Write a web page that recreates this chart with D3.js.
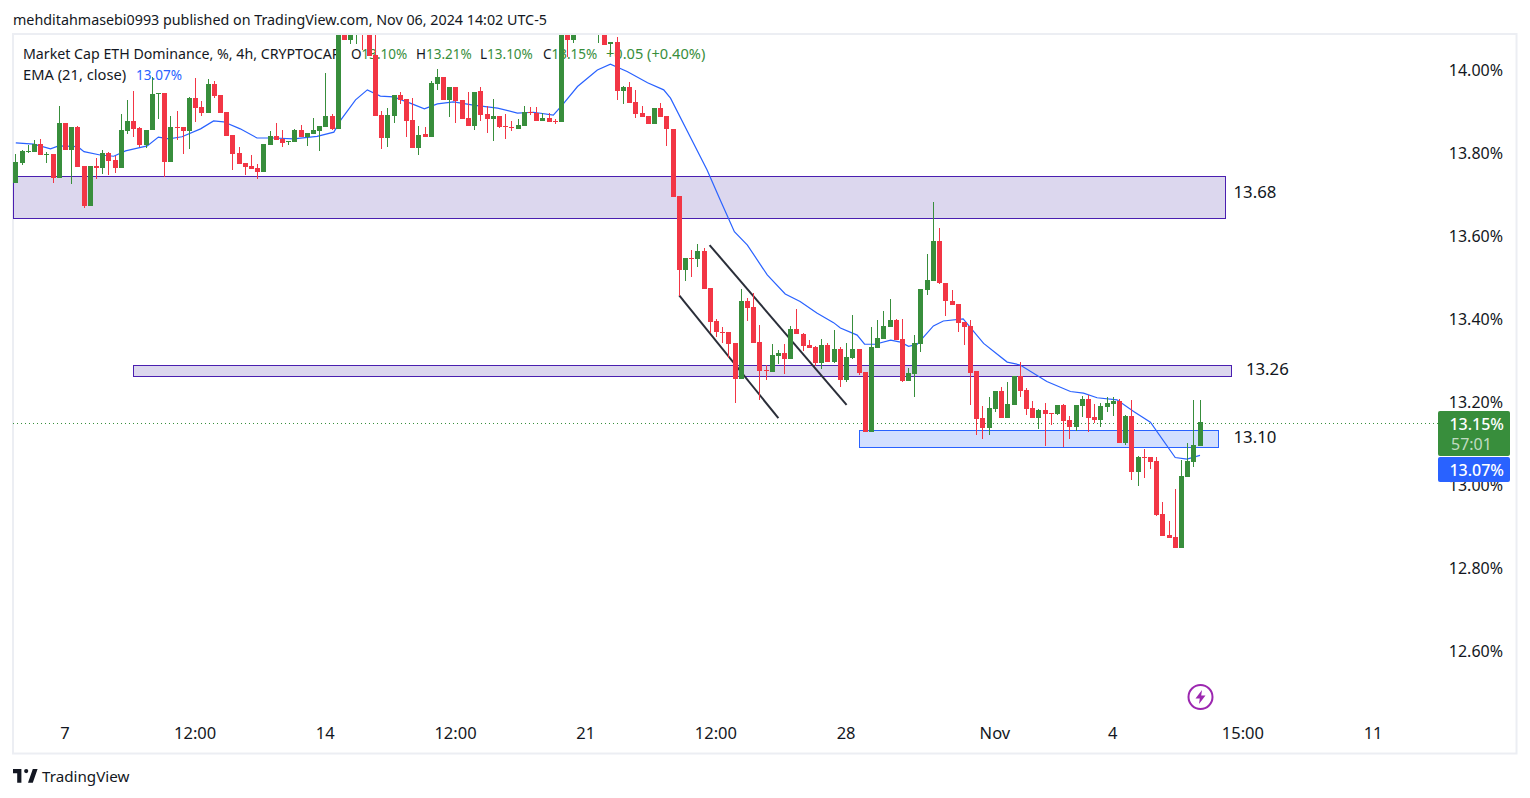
<!DOCTYPE html>
<html>
<head>
<meta charset="utf-8">
<script src="https://cdn.jsdelivr.net/npm/d3@7"></script>
<style>
  html, body { margin: 0; padding: 0; background: #fff; }
  svg { display: block; }
  text { font-family: "Noto Sans", "Open Sans", sans-serif; fill: #131722; }
</style>
</head>
<body>
<svg id="chart" width="1530" height="798"></svg>
<script>
// candles, 4h bars, index 0 = Oct 7 00:00. index -8 is the first one on screen
var firstIndex = -8;

var opens = [
  13.727,13.775,13.801,13.801,13.820,13.794,13.796,13.739,13.871,13.806,
  13.861,13.768,13.671,13.768,13.763,13.799,13.782,13.763,13.852,13.876,
  13.859,13.818,13.854,13.941,13.943,13.777,13.861,13.861,13.852,13.931,
  13.909,13.895,13.965,13.938,13.897,13.842,13.799,13.775,13.768,13.763,
  13.753,13.818,13.840,13.832,13.825,13.825,13.854,13.837,13.844,13.852,
  13.861,13.887,13.857,14.107,14.071,14.090,14.120,14.110,14.035,13.890,
  13.835,13.887,13.938,13.929,13.878,13.811,13.844,13.837,13.965,13.982,
  13.927,13.958,13.927,13.883,13.864,13.948,13.892,13.880,13.887,13.864,
  13.861,13.857,13.864,13.897,13.895,13.876,13.883,13.876,13.873,14.110,
  14.071,14.150,14.120,14.160,14.100,14.140,14.061,14.066,13.948,13.958,
  13.922,13.895,13.887,13.869,13.907,13.887,13.857,13.695,13.517,13.546,
  13.543,13.563,13.474,13.394,13.367,13.367,13.341,13.254,13.443,13.428,
  13.343,13.276,13.271,13.310,13.317,13.302,13.374,13.362,13.336,13.331,
  13.293,13.336,13.295,13.326,13.252,13.305,13.326,13.271,13.126,13.329,
  13.350,13.379,13.396,13.350,13.249,13.266,13.338,13.469,13.491,13.587,
  13.486,13.443,13.435,13.391,13.382,13.273,13.160,13.136,13.182,13.225,
  13.160,13.192,13.261,13.228,13.185,13.160,13.180,13.172,13.170,13.192,
  13.155,13.138,13.189,13.206,13.163,13.155,13.187,13.194,13.201,13.100,
  13.165,13.030,13.066,13.066,13.057,12.929,12.878,12.873,12.847,13.018,
  13.054,13.093
];
var highs = [
  13.796,13.806,13.818,13.830,13.832,13.801,13.796,13.912,13.871,13.861,
  13.864,13.768,13.768,13.787,13.806,13.801,13.792,13.892,13.927,13.948,
  13.861,13.854,13.982,13.943,13.943,13.887,13.900,13.861,13.934,13.980,
  13.924,13.977,13.972,13.938,13.897,13.842,13.813,13.775,13.794,13.772,
  13.820,13.852,13.871,13.854,13.828,13.857,13.866,13.847,13.883,13.864,
  13.992,13.892,14.130,14.130,14.130,14.140,14.140,14.140,14.100,13.900,
  13.907,13.938,13.946,13.929,13.931,13.864,13.861,13.972,14.001,13.982,
  13.958,13.958,13.927,13.946,13.946,13.958,13.912,13.929,13.887,13.892,
  13.876,13.880,13.912,13.909,13.909,13.895,13.895,13.880,14.130,14.130,
  14.130,14.170,14.180,14.190,14.160,14.160,14.066,14.078,13.960,13.970,
  13.951,13.912,13.887,13.907,13.919,13.887,13.857,13.695,13.546,13.565,
  13.579,13.570,13.474,13.399,13.379,13.367,13.341,13.471,13.450,13.462,
  13.384,13.288,13.338,13.324,13.338,13.382,13.423,13.365,13.348,13.333,
  13.350,13.341,13.372,13.331,13.341,13.408,13.326,13.271,13.379,13.396,
  13.418,13.447,13.399,13.399,13.281,13.360,13.471,13.555,13.681,13.618,
  13.486,13.469,13.435,13.391,13.396,13.273,13.189,13.211,13.225,13.235,
  13.247,13.261,13.295,13.233,13.201,13.182,13.197,13.172,13.192,13.194,
  13.165,13.192,13.213,13.216,13.194,13.197,13.211,13.211,13.206,13.168,
  13.204,13.069,13.085,13.066,13.066,12.958,12.912,12.989,13.059,13.100,
  13.204,13.204
];
var lows = [
  13.727,13.770,13.799,13.801,13.794,13.775,13.727,13.739,13.806,13.724,
  13.765,13.666,13.671,13.736,13.748,13.746,13.751,13.763,13.844,13.837,
  13.813,13.811,13.854,13.880,13.741,13.777,13.830,13.796,13.808,13.873,
  13.887,13.895,13.931,13.895,13.840,13.758,13.772,13.746,13.760,13.736,
  13.753,13.818,13.830,13.813,13.818,13.825,13.837,13.816,13.844,13.804,
  13.861,13.854,13.857,14.071,14.061,14.061,14.047,14.033,13.887,13.808,
  13.813,13.871,13.917,13.837,13.811,13.794,13.837,13.837,13.951,13.927,
  13.885,13.871,13.880,13.864,13.854,13.876,13.847,13.828,13.859,13.832,
  13.852,13.857,13.864,13.890,13.876,13.876,13.873,13.869,13.873,14.030,
  14.064,14.100,14.100,14.110,14.064,14.059,14.035,13.927,13.917,13.919,
  13.883,13.885,13.869,13.869,13.885,13.816,13.693,13.455,13.491,13.500,
  13.524,13.471,13.365,13.355,13.341,13.305,13.197,13.254,13.394,13.341,
  13.204,13.252,13.271,13.291,13.266,13.302,13.362,13.322,13.329,13.286,
  13.278,13.295,13.293,13.235,13.247,13.302,13.264,13.126,13.126,13.329,
  13.350,13.379,13.348,13.247,13.249,13.211,13.319,13.457,13.491,13.483,
  13.406,13.433,13.367,13.336,13.192,13.119,13.109,13.119,13.175,13.160,
  13.160,13.192,13.211,13.168,13.160,13.133,13.093,13.143,13.168,13.090,
  13.109,13.129,13.163,13.126,13.148,13.138,13.175,13.165,13.100,13.095,
  13.011,12.996,13.016,13.037,12.924,12.875,12.871,12.847,12.847,13.018,
  13.042,13.093
];
var closes = [
  13.777,13.804,13.804,13.820,13.794,13.796,13.739,13.871,13.806,13.861,
  13.765,13.671,13.768,13.763,13.799,13.780,13.763,13.854,13.876,13.857,
  13.818,13.854,13.941,13.943,13.777,13.861,13.859,13.852,13.931,13.907,
  13.895,13.965,13.936,13.895,13.840,13.796,13.772,13.765,13.760,13.753,
  13.820,13.840,13.830,13.823,13.828,13.854,13.837,13.847,13.854,13.864,
  13.887,13.857,14.119,14.071,14.100,14.120,14.090,14.033,13.887,13.835,
  13.890,13.938,13.927,13.876,13.811,13.842,13.837,13.967,13.982,13.927,
  13.958,13.924,13.880,13.864,13.946,13.890,13.880,13.887,13.861,13.861,
  13.859,13.866,13.897,13.895,13.876,13.883,13.873,13.873,14.110,14.071,
  14.110,14.120,14.160,14.130,14.140,14.059,14.066,13.948,13.958,13.919,
  13.892,13.885,13.869,13.907,13.885,13.857,13.693,13.517,13.546,13.543,
  13.563,13.471,13.391,13.367,13.365,13.338,13.254,13.443,13.426,13.341,
  13.273,13.273,13.312,13.317,13.302,13.374,13.362,13.333,13.329,13.293,
  13.336,13.295,13.326,13.252,13.307,13.326,13.269,13.126,13.331,13.353,
  13.382,13.396,13.348,13.249,13.269,13.341,13.471,13.493,13.587,13.486,
  13.443,13.433,13.389,13.379,13.269,13.158,13.136,13.185,13.225,13.160,
  13.194,13.261,13.225,13.182,13.160,13.180,13.170,13.170,13.192,13.153,
  13.138,13.192,13.206,13.160,13.155,13.189,13.197,13.201,13.100,13.165,
  13.030,13.066,13.064,13.054,12.927,12.875,12.871,12.847,13.020,13.057,
  13.095,13.150
];

// EMA 21: position in bars, then value
var emaAt = [
  -8,-5.1,-2.4,-1.1,2,3,5.6,7.8,9.7,11.8,13.2,15,16.7,18.8,21.8,23.9,25.5,28.2,30.9,33.6,
  36.8,40.6,43.3,44.4,46.8,48.7,50.8,52.9,55.6,57.9,60,62.6,65.8,69.7,72.9,75.5,78.7,80.3,82.6,85.8,
  87.9,90.6,93.9,96.5,97.6,103.5,105.6,107.9,110,113.2,116.1,118.5,121.2,123.9,125,127.7,128.9,130.6,133.1,134.7,
  136,137.4,140,141.6,144.8,148.1,151.9,154,158.3,162.1,164.2,166.4,169.6,172.3,175,179,180.9,183
];
var emaValues = [
  13.823,13.820,13.809,13.816,13.814,13.802,13.794,13.791,13.804,13.811,13.816,13.837,13.833,13.838,13.857,13.876,13.874,13.857,13.835,13.835,
  13.833,13.839,13.849,13.878,13.927,13.951,13.936,13.934,13.919,13.905,13.917,13.922,13.914,13.907,13.895,13.897,13.890,13.917,13.959,13.999,
  14.013,13.995,13.968,13.951,13.931,13.758,13.686,13.609,13.577,13.505,13.459,13.441,13.413,13.390,13.377,13.360,13.338,13.338,13.348,13.343,
  13.333,13.338,13.382,13.394,13.399,13.340,13.295,13.288,13.248,13.224,13.220,13.209,13.204,13.176,13.150,13.065,13.061,13.070
];

// drawings: [from bar, to bar, top value, bottom value]
var purpleZones = [[-8.4, 187.1, 13.744, 13.642], [10.85, 188, 13.288, 13.261]];
var blueZones = [[128, 185.9, 13.131, 13.090]];
var zoneLabels = ["13.68", "13.26", "13.10"];
var zoneLabelBars = [188.4, 190.4, 188.4];
var zoneLabelValues = [13.691, 13.264, 13.100];
// [from bar, from value, to bar, to value]
var trendLines = [[99, 13.456, 115, 13.160], [103.9, 13.577, 126, 13.192]];

var priceTicks = [14, 13.8, 13.6, 13.4, 13.2, 13, 12.8, 12.6];
var timeTicks = [0, 21, 42, 63, 84, 105, 126, 150, 169, 190, 211];
var timeLabels = ["7", "12:00", "14", "12:00", "21", "12:00", "28", "Nov", "4", "15:00", "11"];

var lastPrice = 13.15, lastEma = 13.07;

var green = "#388e3c", red = "#f23645", blue = "#2962ff", purple = "#4a1fb0";

var svg = d3.select("#chart");

var x = d3.scaleLinear().domain([0, 100]).range([65.4, 685.4]);
var y = d3.scaleLinear().domain([14, 12.6]).range([69.5, 650.5]);

// frame
svg.append("rect")
  .attr("x", 13).attr("y", 34).attr("width", 1503.5).attr("height", 719.5)
  .attr("fill", "none").attr("stroke", "#eceef3").attr("stroke-width", 2);

svg.append("text").attr("x", 13).attr("y", 24.5)
  .style("font-size", "14.3px")
  .text("mehditahmasebi0993 published on TradingView.com, Nov 06, 2024 14:02 UTC-5");

svg.append("clipPath").attr("id", "plot").append("rect")
  .attr("x", 13).attr("y", 35).attr("width", 1425).attr("height", 717);

// legend sits under the candles
var legend = svg.append("g").style("font-size", "14.2px");
legend.append("text").attr("x", 23).attr("y", 59).text("Market Cap ETH Dominance, %, 4h, CRYPTOCAP");
var ohlc = [["O", "13.10%", 351], ["H", "13.21%", 416], ["L", "13.10%", 480], ["C", "13.15%", 543]];
ohlc.forEach(function(d) {
  var t = legend.append("text").attr("x", d[2]).attr("y", 59).style("font-size", "13.5px");
  t.append("tspan").text(d[0]);
  t.append("tspan").style("fill", green).text(d[1]);
});
legend.append("text").attr("x", 606).attr("y", 59).style("fill", green).style("font-size", "14.6px").text("+0.05 (+0.40%)");
legend.append("text").attr("x", 23).attr("y", 80).style("font-size", "14.7px").text("EMA (21, close)");
legend.append("text").attr("x", 136).attr("y", 80).style("fill", blue).style("font-size", "13.6px").text("13.07%");

var plot = svg.append("g").attr("clip-path", "url(#plot)");

// last price dots
plot.append("line")
  .attr("x1", 13).attr("x2", 1438)
  .attr("y1", Math.ceil(y(lastPrice)) + 0.5).attr("y2", Math.ceil(y(lastPrice)) + 0.5)
  .attr("stroke", green).attr("stroke-width", 1).attr("stroke-dasharray", "1 3");

function drawZones(zones, stroke, fill) {
  plot.selectAll(null).data(zones).enter().append("rect")
    .attr("x", function(d) { return Math.round(x(d[0])) + 0.5; })
    .attr("y", function(d) { return Math.round(y(d[2])) + 0.5; })
    .attr("width", function(d) { return Math.round(x(d[1]) - x(d[0])); })
    .attr("height", function(d) { return Math.round(y(d[3]) - y(d[2])); })
    .attr("fill", fill).attr("stroke", stroke).attr("stroke-width", 1);
}
drawZones(purpleZones, purple, "#dcd7ee");
drawZones(blueZones, blue, "#d2dfff");

plot.selectAll(null).data(trendLines).enter().append("line")
  .attr("x1", function(d) { return x(d[0]); })
  .attr("y1", function(d) { return y(d[1]); })
  .attr("x2", function(d) { return x(d[2]); })
  .attr("y2", function(d) { return y(d[3]); })
  .attr("stroke", "#2a2e39").attr("stroke-width", 2);

var emaLine = d3.line()
  .x(function(d, i) { return x(emaAt[i]); })
  .y(function(d) { return y(d); });

plot.append("path").attr("d", emaLine(emaValues))
  .attr("fill", "none").attr("stroke", blue).attr("stroke-width", 1.2);

// candles
var candles = plot.selectAll("g.candle").data(opens).enter().append("g")
  .attr("class", "candle")
  .attr("shape-rendering", "crispEdges");

function barColor(i) { return closes[i] >= opens[i] ? green : red; }
function barX(i) { return Math.floor(x(i + firstIndex)); }

candles.append("rect")
  .attr("x", function(d, i) { return barX(i); })
  .attr("width", 1)
  .attr("y", function(d, i) { return Math.round(y(highs[i])); })
  .attr("height", function(d, i) { return Math.max(1, Math.round(y(lows[i])) - Math.round(y(highs[i]))); })
  .attr("fill", function(d, i) { return barColor(i); });

candles.append("rect")
  .attr("x", function(d, i) { return barX(i) - 2; })
  .attr("width", 5)
  .attr("y", function(d, i) { return Math.round(y(Math.max(opens[i], closes[i]))); })
  .attr("height", function(d, i) {
    return Math.max(1, Math.round(y(Math.min(opens[i], closes[i]))) - Math.round(y(Math.max(opens[i], closes[i]))));
  })
  .attr("fill", function(d, i) { return barColor(i); });

// zone labels
svg.selectAll("text.zone").data(zoneLabels).enter().append("text")
  .attr("class", "zone")
  .attr("x", function(d, i) { return x(zoneLabelBars[i]); })
  .attr("y", function(d, i) { return y(zoneLabelValues[i]); })
  .style("font-size", "16.8px")
  .text(function(d) { return d; });

// axes
var priceAxis = d3.axisLeft(y)
  .tickValues(priceTicks)
  .tickSize(0)
  .tickPadding(0)
  .tickFormat(function(d) { return d3.format(".2f")(d) + "%"; });

svg.append("g").attr("transform", "translate(1503,1)").call(priceAxis)
  .call(function(g) { g.select(".domain").remove(); })
  .selectAll("text").style("font-size", "16px").style("font-family", null);

var timeAxis = d3.axisBottom(x)
  .tickValues(timeTicks)
  .tickSize(0)
  .tickPadding(0)
  .tickFormat(function(d, i) { return timeLabels[i]; });

svg.append("g").attr("transform", "translate(-1,727)").call(timeAxis)
  .call(function(g) { g.select(".domain").remove(); })
  .selectAll("text").style("font-size", "16.5px").style("font-family", null);

// price tags on the right
var tags = svg.append("g");
tags.append("rect").attr("x", 1438).attr("y", 411).attr("width", 72).attr("height", 45).attr("rx", 2).attr("fill", green);
tags.append("rect").attr("x", 1438).attr("y", 457).attr("width", 72).attr("height", 25).attr("rx", 2).attr("fill", blue);
tags.append("text").attr("x", 1504).attr("y", 429.5).attr("text-anchor", "end")
  .style("font-size", "16px").style("font-weight", 500).style("fill", "#fff").text(d3.format(".2f")(lastPrice) + "%");
tags.append("text").attr("x", 1451).attr("y", 449.5)
  .style("font-size", "16px").style("fill", "#fff").style("fill-opacity", 0.7).text("57:01");
tags.append("text").attr("x", 1504).attr("y", 475.5).attr("text-anchor", "end")
  .style("font-size", "16px").style("font-weight", 500).style("fill", "#fff").text(d3.format(".2f")(lastEma) + "%");

// lightning badge
var badge = svg.append("g").attr("transform", "translate(1200.5,697)");
badge.append("circle").attr("r", 12).attr("fill", "#fff").attr("stroke", "#9c27b0").attr("stroke-width", 2);
badge.append("path").attr("d", "M1.5,-7 L-5,1.5 L-0.7,1.5 L-1.5,7 L5,-1.5 L0.7,-1.5 Z").attr("fill", "#9c27b0");

// logo and name at the bottom
svg.append("path")
  .attr("transform", "translate(13,769) scale(0.6)")
  .attr("d", "M14 0H0v7h7v16h7V0zM33 23h-8L33 0h8l-8 23zM22 7a3.5 3.5 0 1 0 0 -7 3.5 3.5 0 0 0 0 7z")
  .attr("fill", "#131722");
svg.append("text").attr("x", 42).attr("y", 782).style("font-size", "15.2px").text("TradingView");
</script>
</body>
</html>
